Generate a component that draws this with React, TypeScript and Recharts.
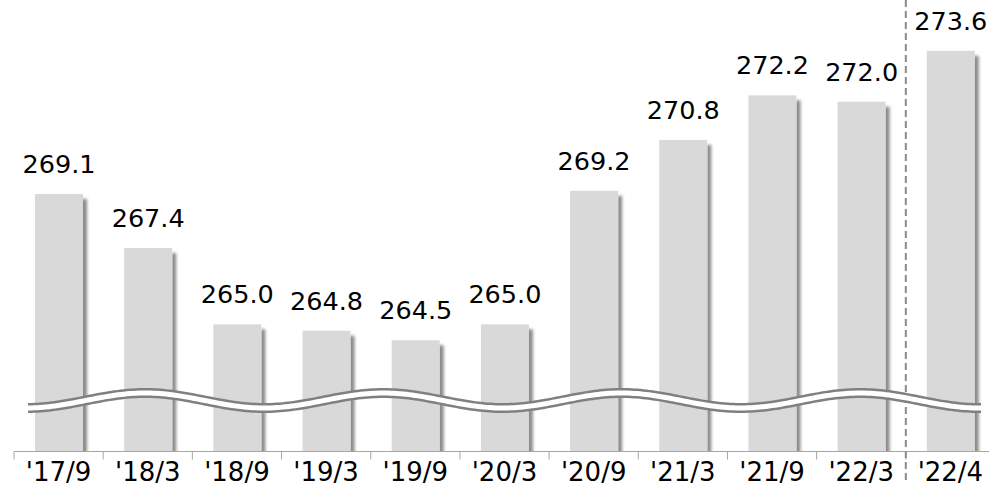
import React from 'react';
import { BarChart, Bar, XAxis, YAxis, LabelList } from 'recharts';

const categories = ["'17/9", "'18/3", "'18/9", "'19/3", "'19/9", "'20/3", "'20/9", "'21/3", "'21/9", "'22/3", "'22/4"];
const values = [269.1, 267.4, 265.0, 264.8, 264.5, 265.0, 269.2, 270.8, 272.2, 272.0, 273.6];
const valueLabels = values.map((v) => v.toFixed(1));
const yDomain = [261, 275.2];
const dividerIndex = 10;

const data = categories.map((c, i) => ({ name: c, value: values[i], label: valueLabels[i] }));

const VIEW_W = 989;
const VIEW_H = 484;
const CHART_W = 995;
const CHART_H = 484;
const M_LEFT = 14;
const M_RIGHT = 0;
const AXIS_H = 32.5;
const PLOT_H = CHART_H - AXIS_H;
const BAND = (CHART_W - M_LEFT - M_RIGHT) / categories.length;
const FONT = "'DejaVu Sans', Verdana, sans-serif";

const Tick = (props: any) => {
  const { x, y, payload, index } = props;
  const left = x - BAND / 2;
  return (
    <g>
      <line x1={left} x2={left} y1={y} y2={y + 8} stroke="#a6a6a6" strokeWidth={1} />
      {index === dividerIndex && (
        <line x1={left} x2={left} y1={y - PLOT_H} y2={CHART_H} stroke="#8a8a8a" strokeWidth={2} strokeDasharray="7 4" />
      )}
      <text x={x} y={y + 29} textAnchor="middle" fontSize={26} fill="#000" fontFamily={FONT}>
        {payload.value}
      </text>
    </g>
  );
};

const BarShape = (p: any) => (
  <rect x={p.x} y={p.y} width={p.width} height={p.height} fill="#d9d9d9" filter="url(#barShadow)" />
);

function wavePath() {
  const x0 = 28;
  const x1 = 981;
  const period = 238.3;
  const trough = 26;
  const mid = 400.5;
  const amp = 7.5;
  let d = '';
  for (let x = x0; x <= x1; x += 3) {
    const y = mid + amp * Math.cos((2 * Math.PI * (x - trough)) / period);
    d += (d ? ' L ' : 'M ') + x.toFixed(1) + ' ' + y.toFixed(2);
  }
  const yEnd = mid + amp * Math.cos((2 * Math.PI * (x1 - trough)) / period);
  d += ' L ' + x1 + ' ' + yEnd.toFixed(2);
  return d;
}

export default function App() {
  const wave = wavePath();
  return (
    <div style={{ position: 'fixed', left: 0, top: 0, width: VIEW_W, height: VIEW_H, overflow: 'hidden', background: '#fff' }}>
      <BarChart
        width={CHART_W}
        height={CHART_H}
        data={data}
        margin={{ top: 0, right: M_RIGHT, left: M_LEFT, bottom: 0 }}
      >
        <defs>
          <filter id="barShadow" x="0" y="0" width="1.3" height="1">
            <feDropShadow dx="4" dy="5" stdDeviation="1.5" floodColor="#000" floodOpacity="0.45" />
          </filter>
        </defs>
        <XAxis
          dataKey="name"
          height={AXIS_H}
          axisLine={{ stroke: '#a6a6a6', strokeWidth: 1 }}
          tickLine={false}
          tickSize={0}
          tickMargin={0}
          interval={0}
          tick={<Tick />}
        />
        <YAxis hide width={0} domain={yDomain} allowDataOverflow />
        <Bar dataKey="value" barSize={48} isAnimationActive={false} shape={<BarShape />}>
          <LabelList dataKey="label" position="top" offset={21} fill="#000" fontSize={25.5} fontFamily={FONT} />
        </Bar>
      </BarChart>
      <svg
        width={VIEW_W}
        height={VIEW_H}
        style={{ position: 'absolute', left: 0, top: 0, pointerEvents: 'none' }}
      >
        <path d={wave} fill="none" stroke="#808080" strokeWidth={10} strokeLinecap="butt" />
        <path d={wave} fill="none" stroke="#ffffff" strokeWidth={5} strokeLinecap="butt" />
      </svg>
    </div>
  );
}
